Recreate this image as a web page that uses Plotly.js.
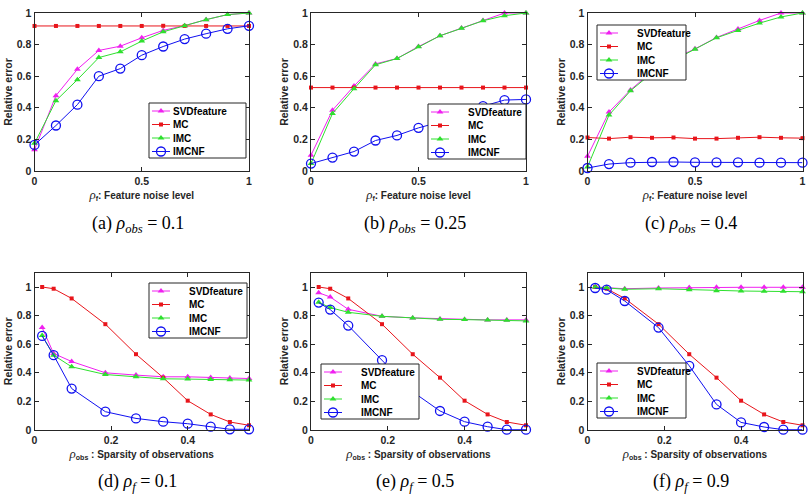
<!DOCTYPE html>
<html>
<head>
<meta charset="utf-8">
<script src="https://cdn.plot.ly/plotly-3.0.1.min.js"></script>
<style>html,body{margin:0;padding:0;background:#fff}</style>
</head>
<body>
<div id="fig" style="width:812px;height:496px"></div>
<script>
// x values
var noiseLevel = [0, 0.1, 0.2, 0.3, 0.4, 0.5, 0.6, 0.7, 0.8, 0.9, 1.0];
var obsSparsity = [0.02, 0.05, 0.097, 0.185, 0.265, 0.336, 0.4, 0.46, 0.51, 0.56];

// (a) rho_obs = 0.1
var svdA   = [0.135, 0.477, 0.644, 0.763, 0.79, 0.843, 0.89, 0.92, 0.958, 0.99, 1.0];
var mcA    = [0.918, 0.918, 0.918, 0.918, 0.918, 0.918, 0.919, 0.918, 0.918, 0.918, 0.918];
var imcA   = [0.175, 0.445, 0.578, 0.718, 0.754, 0.822, 0.881, 0.92, 0.958, 0.99, 1.0];
var imcnfA = [0.165, 0.288, 0.42, 0.60, 0.648, 0.733, 0.788, 0.835, 0.869, 0.90, 0.919];

// (b) rho_obs = 0.25
var svdB   = [0.10, 0.385, 0.538, 0.678, 0.712, 0.788, 0.856, 0.905, 0.953, 1.0, 1.0];
var mcB    = [0.528, 0.528, 0.528, 0.528, 0.528, 0.528, 0.528, 0.528, 0.528, 0.528, 0.528];
var imcB   = [0.047, 0.364, 0.521, 0.672, 0.712, 0.786, 0.856, 0.903, 0.951, 0.983, 1.0];
var imcnfB = [0.047, 0.085, 0.123, 0.193, 0.225, 0.273, 0.31, 0.36, 0.41, 0.449, 0.453];

// (c) rho_obs = 0.4
var svdC   = [0.093, 0.373, 0.513, 0.63, 0.71, 0.773, 0.845, 0.898, 0.953, 1.0, 1.0];
var mcC    = [0.212, 0.205, 0.214, 0.21, 0.212, 0.205, 0.205, 0.21, 0.214, 0.21, 0.208];
var imcC   = [0.025, 0.354, 0.508, 0.62, 0.70, 0.771, 0.843, 0.89, 0.936, 0.975, 1.0];
var imcnfC = [0.019, 0.044, 0.053, 0.057, 0.057, 0.055, 0.055, 0.055, 0.053, 0.053, 0.053];

// MC ignores the features, so its curve is shared by (d), (e), (f)
var mcObs  = [1.0, 0.988, 0.92, 0.74, 0.53, 0.366, 0.205, 0.109, 0.056, 0.033];

// (d) rho_f = 0.1
var svdD   = [0.716, 0.535, 0.479, 0.40, 0.384, 0.372, 0.372, 0.367, 0.363, 0.36];
var imcD   = [0.66, 0.523, 0.442, 0.388, 0.372, 0.358, 0.356, 0.353, 0.351, 0.349];
var imcnfD = [0.658, 0.523, 0.29, 0.128, 0.081, 0.058, 0.044, 0.023, 0.005, 0.005];

// (e) rho_f = 0.5
var svdE   = [0.96, 0.93, 0.844, 0.795, 0.784, 0.777, 0.772, 0.77, 0.77, 0.77];
var imcE   = [0.893, 0.856, 0.823, 0.795, 0.784, 0.774, 0.772, 0.77, 0.767, 0.763];
var imcnfE = [0.891, 0.842, 0.73, 0.488, 0.267, 0.133, 0.058, 0.023, 0.002, 0.002];

// (f) rho_f = 0.9
var svdF   = [1.0, 0.995, 0.988, 0.993, 0.996, 0.998, 0.998, 0.998, 0.999, 0.998];
var imcF   = [1.0, 0.995, 0.984, 0.988, 0.981, 0.974, 0.972, 0.97, 0.97, 0.967];
var imcnfF = [0.993, 0.981, 0.902, 0.716, 0.449, 0.179, 0.053, 0.021, 0.002, 0.002];

var methodNames = ['SVDfeature', 'MC', 'IMC', 'IMCNF'];
var captions = [
  '(a) <i>ρ<sub>obs</sub></i> = 0.1',
  '(b) <i>ρ<sub>obs</sub></i> = 0.25',
  '(c) <i>ρ<sub>obs</sub></i> = 0.4',
  '(d) <i>ρ<sub>f</sub></i> = 0.1',
  '(e) <i>ρ<sub>f</sub></i> = 0.5',
  '(f) <i>ρ<sub>f</sub></i> = 0.9'
];

var W = 812, H = 496;
var SANS = 'Liberation Sans, Arial, sans-serif';
var SERIF = 'Liberation Serif, DejaVu Serif, serif';

var styles = [
  {color: '#f020f0', marker: {symbol: 'triangle-up', size: 6, color: '#f020f0'}},
  {color: '#e8151b', marker: {symbol: 'square', size: 4, color: '#e8151b'}},
  {color: '#2ee02e', marker: {symbol: 'triangle-up', size: 6, color: '#2ee02e'}},
  {color: '#1010f0', marker: {symbol: 'circle-open', size: 9, color: '#1010f0', line: {width: 1.3}}}
];

// column pixel extents and row pixel extents of the plotting boxes
var cols = [[34.5, 249], [311, 526], [587.5, 802.5]];
var rows = [[13, 171], [272.7, 430]];

// legend boxes: left, top, width (px)
var panels = [
  {x: noiseLevel, ys: [svdA, mcA, imcA, imcnfA], row: 0, col: 0, legend: [149, 103, 97]},
  {x: noiseLevel, ys: [svdB, mcB, imcB, imcnfB], row: 0, col: 1, legend: [428, 104, 98]},
  {x: noiseLevel, ys: [svdC, mcC, imcC, imcnfC], row: 0, col: 2, legend: [597, 25, 89]},
  {x: obsSparsity, ys: [svdD, mcObs, imcD, imcnfD], row: 1, col: 0, legend: [149, 283, 98]},
  {x: obsSparsity, ys: [svdE, mcObs, imcE, imcnfE], row: 1, col: 1, legend: [321, 364, 98]},
  {x: obsSparsity, ys: [svdF, mcObs, imcF, imcnfF], row: 1, col: 2, legend: [597, 363, 89]}
];
var LEG_H = 55, LEG_FIRST = 8, LEG_STEP = 13.5, LEG_LINE = 18;

var traces = [];
var layout = {
  width: W, height: H,
  margin: {l: 0, r: 0, t: 0, b: 0},
  paper_bgcolor: '#fff', plot_bgcolor: '#fff',
  font: {family: SANS, color: '#262626'},
  annotations: [],
  shapes: []
};

var rho = '<span style="font-family:Liberation Serif;font-weight:normal;font-size:13px"><i>ρ</i></span>';
var titleTop = rho + '<sub>f</sub>: Feature noise level';
var titleBottom = rho + '<sub>obs</sub> : Sparsity of observations';

panels.forEach(function (p, k) {
  var n = k + 1;
  var xa = 'xaxis' + (n === 1 ? '' : n), ya = 'yaxis' + (n === 1 ? '' : n);
  var xr = 'x' + (n === 1 ? '' : n), yr = 'y' + (n === 1 ? '' : n);
  var lg = 'legend' + (n === 1 ? '' : n);
  var c = cols[p.col], r = rows[p.row];

  p.ys.forEach(function (y, i) {
    traces.push({
      type: 'scatter', mode: 'lines+markers',
      x: p.x, y: y, name: methodNames[i],
      xaxis: xr, yaxis: yr, legend: lg,
      line: {color: styles[i].color, width: 1},
      marker: styles[i].marker,
      cliponaxis: false
    });
  });

  var common = {
    showline: true, linecolor: '#262626', linewidth: 1, mirror: 'ticks',
    ticks: 'inside', ticklen: 4, tickcolor: '#262626', tickwidth: 1,
    showgrid: false, zeroline: false, fixedrange: true,
    tickfont: {family: SANS, size: 10.5, weight: 'bold', color: '#262626'}
  };
  layout[xa] = Object.assign({}, common, {
    domain: [c[0] / W, c[1] / W], anchor: yr,
    range: p.row === 0 ? [0, 1] : [0, 0.56],
    tickvals: p.row === 0 ? [0, 0.5, 1] : [0, 0.2, 0.4],
    ticktext: p.row === 0 ? ['0', '0.5', '1'] : ['0', '0.2', '0.4'],
    title: {text: p.row === 0 ? titleTop : titleBottom, standoff: 3,
            font: {family: SANS, size: 10, weight: 'bold', color: '#262626'}}
  });
  layout[ya] = Object.assign({}, common, {
    domain: [1 - r[1] / H, 1 - r[0] / H], anchor: xr,
    range: p.row === 0 ? [0, 1] : [0, 1.1],
    tickvals: [0, 0.2, 0.4, 0.6, 0.8, 1],
    ticktext: ['0', '0.2', '0.4', '0.6', '0.8', '1'],
    title: {text: 'Relative error', standoff: 2,
            font: {family: SANS, size: 10.5, weight: 'bold', color: '#262626'}}
  });

  // legend entries; the box behind them is a shape so it can be sized freely
  var L = p.legend;
  layout[lg] = {
    x: L[0] / W, y: 1 - L[1] / H, xanchor: 'left', yanchor: 'top',
    bgcolor: 'rgba(0,0,0,0)', borderwidth: 0,
    font: {family: SANS, size: 10, weight: 'bold', color: '#000'},
    itemwidth: 30, itemclick: false, itemdoubleclick: false
  };
  layout.shapes.push({
    type: 'rect', xref: 'paper', yref: 'paper', layer: 'above',
    x0: L[0] / W, x1: (L[0] + L[2]) / W,
    y0: 1 - (L[1] + LEG_H) / H, y1: 1 - L[1] / H,
    fillcolor: '#fff', line: {color: '#262626', width: 1}
  });

  layout.annotations.push({
    xref: 'paper', yref: 'paper', x: ((c[0] + c[1]) / 2 - 4) / W,
    y: 1 - (p.row === 0 ? 224 : 482) / H, xanchor: 'center', yanchor: 'middle',
    text: captions[k], showarrow: false,
    font: {family: SERIF, size: 18, color: '#000'}
  });
});

// Tighter legend rows and shorter sample lines (absolute values, safe to repeat)
function compactLegends() {
  var groups = Array.prototype.filter.call(gd.querySelectorAll('g'), function (g) {
    return /^legend\d*$/.test(g.getAttribute('class') || '');
  });
  groups.forEach(function (lg) {
    var items = lg.querySelectorAll('g.traces');
    items.forEach(function (it, i) {
      it.setAttribute('transform', 'translate(0,' + (LEG_FIRST + i * LEG_STEP) + ')');
      it.querySelectorAll('path.js-line').forEach(function (pth) {
        pth.setAttribute('d', 'M3,0h' + LEG_LINE);
      });
      it.querySelectorAll('g.legendpoints path.scatterpts').forEach(function (pt) {
        pt.setAttribute('transform', 'translate(' + (3 + LEG_LINE / 2) + ',0)');
      });
      var t = it.querySelector('text.legendtext');
      if (t) {
        t.setAttribute('x', 3 + LEG_LINE + 3);
        t.querySelectorAll('tspan').forEach(function (ts) {
          if (ts.hasAttribute('x')) ts.setAttribute('x', 3 + LEG_LINE + 3);
        });
      }
    });
  });
}

var gd = document.getElementById('fig');
Plotly.newPlot(gd, traces, layout, {displayModeBar: false, staticPlot: true}).then(function () {
  gd.on('plotly_afterplot', function () { setTimeout(compactLegends, 0); });
  compactLegends();
  setTimeout(compactLegends, 50);
  setTimeout(compactLegends, 300);
  requestAnimationFrame(compactLegends);
});
</script>
</body>
</html>
